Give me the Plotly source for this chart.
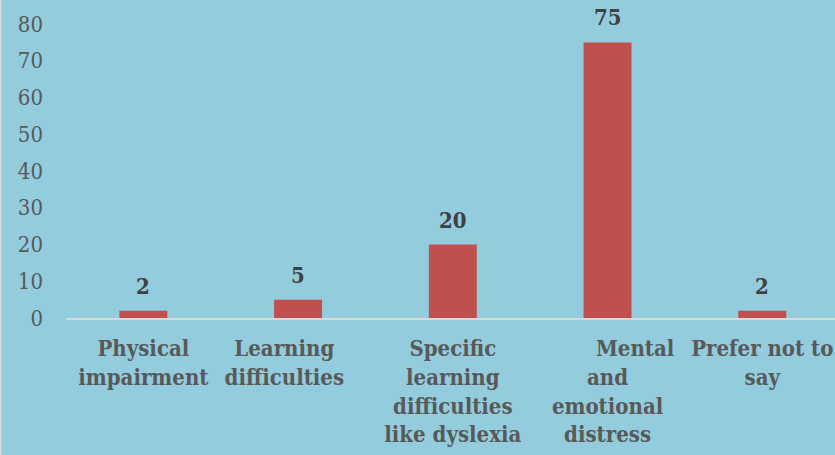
import plotly.graph_objects as go

categories = ["Physical<br>impairment", "Learning    <br>difficulties    ",
              "Specific<br>learning<br>difficulties<br>like dyslexia",
              "        Mental<br>and<br>emotional<br>distress",
              "Prefer not to<br>say"]
values = [2, 5, 20, 75, 2]
y_ticks = [0, 10, 20, 30, 40, 50, 60, 70, 80]

BG = "#92CCDD"
FONT = "DejaVu Serif Condensed"

xs = list(range(len(categories)))

fig = go.Figure()
fig.add_trace(go.Bar(
    x=xs, y=values,
    marker=dict(color="#C0504D", line=dict(color="#C0504D", width=0)),
    width=0.31,
))
for x, v in zip(xs, values):
    fig.add_annotation(x=x, y=v, text=str(v), showarrow=False,
                       yanchor="bottom", yshift=10,
                       font=dict(family=FONT, size=22, color="#404040", weight="bold"))

fig.update_layout(
    width=835, height=455,
    margin=dict(l=66, r=0, t=24, b=137),
    paper_bgcolor=BG, plot_bgcolor=BG,
    showlegend=False,
    font=dict(family=FONT),
)
fig.update_xaxes(
    tickmode="array", tickvals=xs, ticktext=categories,
    range=[-0.5, 4.47],
    showline=True, linecolor="#D9D9D9", linewidth=2,
    showgrid=False, zeroline=False, ticks="", ticklabelstandoff=10,
    tickfont=dict(family=FONT, size=22, color="#595959", weight="bold"),
)
fig.update_yaxes(
    range=[0, 80], tickvals=y_ticks, showgrid=False, zeroline=False,
    showline=False, ticks="", ticklabelstandoff=22,
    tickfont=dict(family=FONT, size=22, color="#595959"),
)
fig.add_shape(type="line", xref="paper", yref="paper",
              x0=-66/769, x1=-66/769, y0=-137/294, y1=1 + 24/294,
              line=dict(color="#D9D9D9", width=3))

fig.write_html("out.html", config={"displayModeBar": False},
               post_script="document.body.style.margin='0';")
